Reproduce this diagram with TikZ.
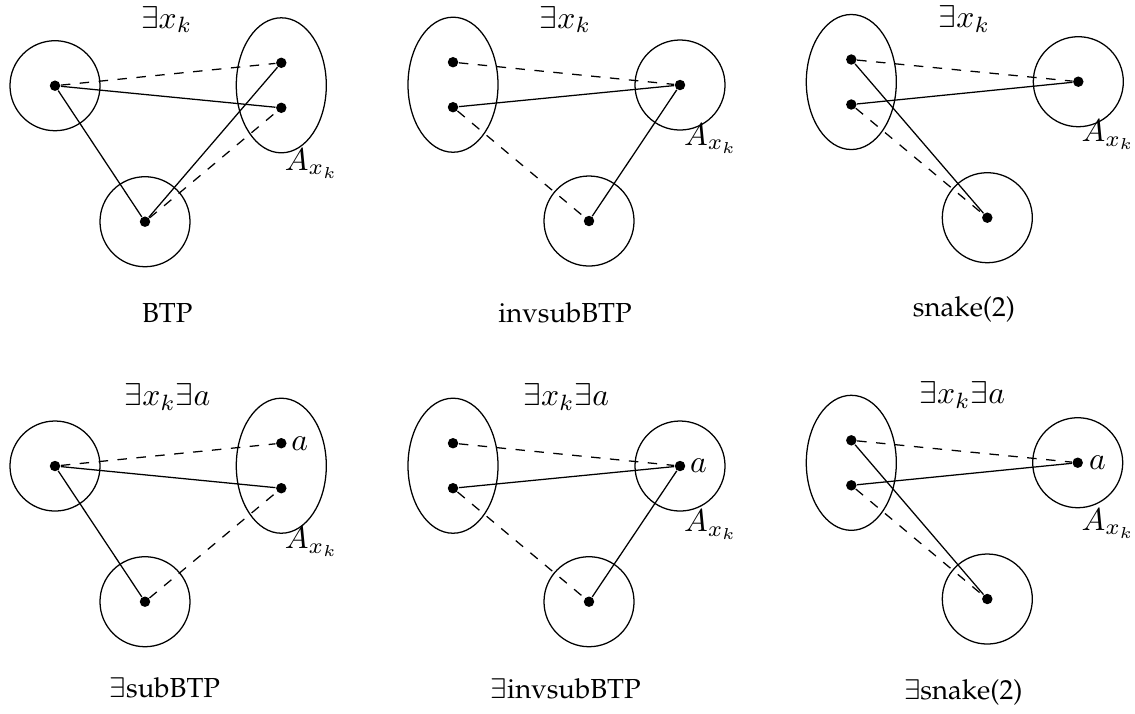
\documentclass[tikz,border=0pt]{standalone}
\usepackage[T1,TU]{fontenc}
\usetikzlibrary{shapes.geometric}
\newcommand\capfont{\fontencoding{T1}\fontfamily{ppl}\fontsize{8.7}{10}\selectfont}
\begin{document}
\begin{tikzpicture}[x=0.0111111cm, y=-0.0111111cm,
  setc/.style={draw, circle, minimum size=1cm, inner sep=0pt},
  sete/.style={draw, ellipse, minimum width=1cm, minimum height=1.5cm, inner sep=0pt},
  pt/.style={circle, fill, inner sep=0pt, minimum size=3.3pt},
  lbl/.style={anchor=base, inner sep=0pt},
  captext/.style={anchor=base, inner sep=0pt, font=\capfont},
  alab/.style={anchor=west, inner sep=0pt}]
\useasboundingbox (0,0) rectangle (1135,713);

% ---------- Panel 1: BTP ----------
\node[setc] (c1L) at (55,85.7) {};
\node[setc] (c1B) at (145,221.7) {};
\node[sete] (e1) at (281.3,85.3) {};
\node[pt] (p1L) at (c1L.center) {};
\node[pt] (p1B) at (c1B.center) {};
\node[pt] (p1T) at (281.3,62.8) {};
\node[pt] (p1U) at (281.3,107.8) {};
\draw[dashed] (p1L) -- (p1T);
\draw (p1L) -- (p1U);
\draw (p1L) -- (p1B);
\draw (p1B) -- (p1T);
\draw[dashed] (p1B) -- (p1U);
\node[lbl] (q1) at (166.7,28) {$\exists x_k$};
\node[lbl] (A1) at (311.7,170) {$A_{x_k}$};
\node[captext] (t1) at (167.3,322.3) {BTP};

% ---------- Panel 2: invsubBTP ----------
\node[sete] (e2) at (453,84.7) {};
\node[setc] (c2R) at (680,85) {};
\node[setc] (c2B) at (589,221) {};
\node[pt] (p2T) at (453,62.2) {};
\node[pt] (p2U) at (453,107.2) {};
\node[pt] (p2R) at (c2R.center) {};
\node[pt] (p2B) at (c2B.center) {};
\draw[dashed] (p2T) -- (p2R);
\draw (p2U) -- (p2R);
\draw[dashed] (p2U) -- (p2B);
\draw (p2R) -- (p2B);
\node[lbl] (q2) at (565.5,28) {$\exists x_k$};
\node[lbl] (A2) at (710.8,145) {$A_{x_k}$};
\node[captext] (t2) at (565,322.5) {invsubBTP};

% ---------- Panel 3: snake(2) ----------
\node[sete] (e3) at (851.3,82) {};
\node[setc] (c3R) at (1078.3,81.7) {};
\node[setc] (c3B) at (987.3,217.7) {};
\node[pt] (p3T) at (851.3,59.5) {};
\node[pt] (p3U) at (851.3,104.5) {};
\node[pt] (p3R) at (c3R.center) {};
\node[pt] (p3B) at (c3B.center) {};
\draw[dashed] (p3T) -- (p3R);
\draw (p3T) -- (p3B);
\draw (p3U) -- (p3R);
\draw[dashed] (p3U) -- (p3B);
\node[lbl] (q3) at (964.5,27.5) {$\exists x_k$};
\node[lbl] (A3) at (1108.3,141.7) {$A_{x_k}$};
\node[captext] (t3) at (964,316.7) {snake(2)};

% ---------- Panel 4: exists subBTP ----------
\node[setc] (c4L) at (55,466) {};
\node[setc] (c4B) at (145,601.7) {};
\node[sete] (e4) at (281.3,465.7) {};
\node[pt] (p4L) at (c4L.center) {};
\node[pt] (p4B) at (c4B.center) {};
\node[pt] (p4T) at (281.3,443.2) {};
\node[pt] (p4U) at (281.3,488.2) {};
\draw[dashed] (p4L) -- (p4T);
\draw (p4L) -- (p4U);
\draw (p4L) -- (p4B);
\draw[dashed] (p4B) -- (p4U);
\node[alab] (a4) at ([xshift=0.105cm]p4T.center) {$a$};
\node[lbl] (q4) at (167.5,405.5) {$\exists x_k\exists a$};
\node[lbl] (A4) at (311.7,548.3) {$A_{x_k}$};
\node[captext] (t4) at (165,697.7) {$\exists$subBTP};

% ---------- Panel 5: exists invsubBTP ----------
\node[sete] (e5) at (453,465.7) {};
\node[setc] (c5R) at (680,466) {};
\node[setc] (c5B) at (589,601.7) {};
\node[pt] (p5T) at (453,443.2) {};
\node[pt] (p5U) at (453,488.2) {};
\node[pt] (p5R) at (c5R.center) {};
\node[pt] (p5B) at (c5B.center) {};
\draw[dashed] (p5T) -- (p5R);
\draw (p5U) -- (p5R);
\draw[dashed] (p5U) -- (p5B);
\draw (p5R) -- (p5B);
\node[alab] (a5) at ([xshift=0.105cm]p5R.center) {$a$};
\node[lbl] (q5) at (566.3,405.7) {$\exists x_k\exists a$};
\node[lbl] (A5) at (710.8,531.7) {$A_{x_k}$};
\node[captext] (t5) at (565.8,698.3) {$\exists$invsubBTP};

% ---------- Panel 6: exists snake(2) ----------
\node[sete] (e6) at (851.3,462.8) {};
\node[setc] (c6R) at (1077.7,462.7) {};
\node[setc] (c6B) at (987.3,599) {};
\node[pt] (p6T) at (851.3,440.3) {};
\node[pt] (p6U) at (851.3,485.3) {};
\node[pt] (p6R) at (c6R.center) {};
\node[pt] (p6B) at (c6B.center) {};
\draw[dashed] (p6T) -- (p6R);
\draw (p6T) -- (p6B);
\draw (p6U) -- (p6R);
\draw[dashed] (p6U) -- (p6B);
\node[alab] (a6) at ([xshift=0.12cm]p6R.center) {$a$};
\node[lbl] (q6) at (962.2,403.3) {$\exists x_k\exists a$};
\node[lbl] (A6) at (1108.3,530) {$A_{x_k}$};
\node[captext] (t6) at (963.3,699.7) {$\exists$snake(2)};
\end{tikzpicture}
\end{document}
